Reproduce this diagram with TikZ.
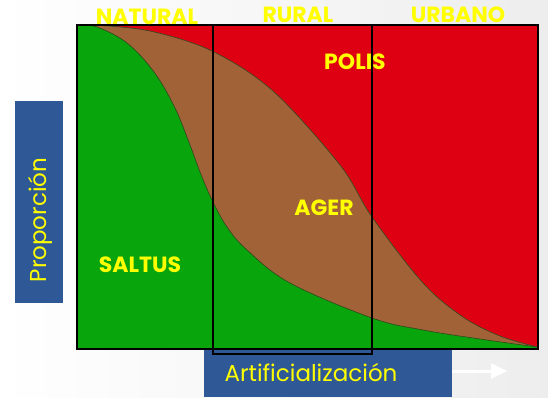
\documentclass[tikz,border=0pt]{standalone}
\usepackage{fontspec}
\setmainfont{Poppins}
\usetikzlibrary{arrows.meta}
\definecolor{cgreen}{RGB}{8,165,12}
\definecolor{cbrown}{RGB}{161,98,56}
\definecolor{cred}{RGB}{222,0,18}
\definecolor{cblue}{RGB}{47,88,150}
\definecolor{cyel}{RGB}{255,255,0}
\definecolor{cedge}{RGB}{50,70,30}
\begin{document}
\begin{tikzpicture}[x=1pt,y=-1pt,
  lbl/.style={text=cyel, font=\bfseries\fontsize{22}{22}\selectfont, inner sep=0pt, text depth=0pt},
  boxtext/.style={text=cyel, font=\fontsize{23}{23}\selectfont, inner sep=0pt},
  bluebox/.style={fill=cblue, draw=none, inner sep=0pt},
  frame/.style={draw=black, line width=2pt},
  curveedge/.style={draw=cedge, line width=0.6pt}]
\def\redcurve{(94,25) (150,31) (212,51) (273,91) (340,165) (372,217) (423,283) (463,317) (500,336) (537,347)}
\def\greencurve{(77,25) (97,27) (127,43) (154,72) (175,108) (190,145) (200,172) (212,200) (227,227) (247,250) (290,283) (372,318) (423,330) (480,339) (537,347)}
\useasboundingbox (0,0) rectangle (548,397);
\shade[left color=white, right color=black!7] (0,0) rectangle (548,397);

% areas
\fill[cred] (77,25) rectangle (538,349);
\fill[cbrown] (77,349) -- (77,25) -- plot[smooth, tension=0.55] coordinates {\redcurve} -- (538,349) -- cycle;
\fill[cgreen] (77,349) -- plot[smooth, tension=0.6] coordinates {\greencurve} -- (538,349) -- cycle;
\draw[curveedge] plot[smooth, tension=0.55] coordinates {\redcurve};
\draw[curveedge] plot[smooth, tension=0.6] coordinates {\greencurve};

% blue boxes
\node[bluebox, minimum width=48pt, minimum height=202pt] (propbox) at (39,202) {};
\node[boxtext, rotate=90] (prop) at (40,220) {Proporción};
\node[bluebox, minimum width=248pt, minimum height=48pt] (artbox) at (328,373) {};
\node[boxtext] (art) at (311,373) {Artificialización};

% frames
\draw[frame] (77,25) rectangle (538,349);
\draw[frame] (213,25) rectangle (372,354);
\draw[frame] (372,25) rectangle (538,349);

% arrow
\coordinate (arrS) at (452,371);
\coordinate (arrE) at (507,371);
\draw[white, line width=3pt, -{Triangle[width=15pt,length=16pt]}] (arrS) -- (arrE);

% labels
\node[lbl] (natural) at (147,17) {NATURAL};
\node[lbl] (rural) at (298,15) {RURAL};
\node[lbl] (urbano) at (458,15) {URBANO};
\node[lbl] (polis) at (355,62) {POLIS};
\node[lbl] (ager) at (324,208) {AGER};
\node[lbl] (saltus) at (140,265) {SALTUS};
\end{tikzpicture}
\end{document}
